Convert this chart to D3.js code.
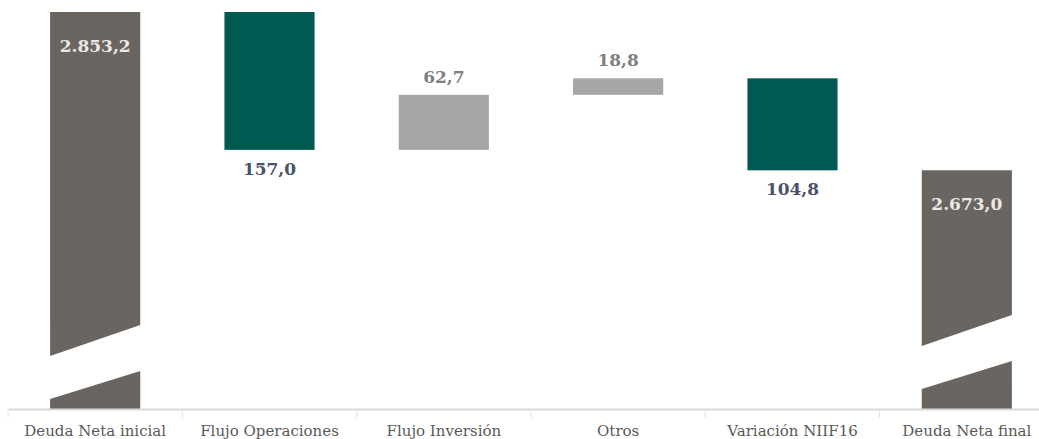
<!DOCTYPE html>
<html>
<head>
<meta charset="utf-8">
<script src="https://cdn.jsdelivr.net/npm/d3@7"></script>
<style>
  body { margin: 0; background: #fff; }
  svg { display: block; }
</style>
</head>
<body>
<div id="chart"></div>
<script>
// data
const categories = ['Deuda Neta inicial', 'Flujo Operaciones', 'Flujo Inversión', 'Otros', 'Variación NIIF16', 'Deuda Neta final'];
const kinds = ['total', 'down', 'up', 'up', 'down', 'total'];
const values = [2853.2, 157.0, 62.7, 18.8, 104.8, 2673.0];
const valueLabels = ['2.853,2', '157,0', '62,7', '18,8', '104,8', '2.673,0'];

const width = 1039, height = 439;
const baseY = 409;

const svg = d3.select('#chart').append('svg')
  .attr('width', width)
  .attr('height', height);

// running totals for the waterfall
let run = 0;
const bars = categories.map((c, i) => {
  let lo, hi;
  if (kinds[i] === 'total') { lo = null; hi = values[i]; run = values[i]; }
  else if (kinds[i] === 'down') { hi = run; run = run - values[i]; lo = run; }
  else { lo = run; run = run + values[i]; hi = run; }
  return { cat: c, kind: kinds[i], lo: lo, hi: hi, label: valueLabels[i] };
});

const x = d3.scaleBand()
  .domain(categories)
  .range([8, 1054])
  .paddingInner(0.483)
  .paddingOuter(0.2415);

const y = d3.scaleLinear()
  .domain([2400, 2853.2])
  .range([410, 12]);

const colors = { total: '#6b6562', down: '#005a52', up: '#a6a6a6' };
const labelColors = { total: '#ece8e4', down: '#48526b', up: '#7f7f7f' };

// break cut offsets (pixels from baseline) for the total bars
const breaks = { 'Deuda Neta inicial': 0, 'Deuda Neta final': -10 };

const g = svg.append('g');

bars.forEach(b => {
  const x0 = x(b.cat), x1 = x0 + x.bandwidth();
  if (b.kind === 'total') {
    const off = breaks[b.cat];
    const top = y(b.hi);
    const upper = [[x0, top], [x1, top], [x1, 325 + off], [x0, 356 + off]];
    const lower = [[x0, 399 + off], [x1, 371 + off], [x1, baseY], [x0, baseY]];
    [upper, lower].forEach(p => {
      g.append('path')
        .attr('d', d3.line()(p) + 'Z')
        .attr('fill', colors.total);
    });
  } else {
    g.append('rect')
      .attr('x', x0)
      .attr('y', y(b.hi))
      .attr('width', x.bandwidth())
      .attr('height', y(b.lo) - y(b.hi))
      .attr('fill', colors[b.kind]);
  }
});

// value labels
g.selectAll('text.val')
  .data(bars)
  .join('text')
  .attr('class', 'val')
  .attr('x', d => x(d.cat) + x.bandwidth() / 2)
  .attr('y', d => {
    if (d.kind === 'total') return y(d.hi) + 40;
    if (d.kind === 'down') return y(d.lo) + 25;
    return y(d.hi) - 12;
  })
  .attr('text-anchor', 'middle')
  .attr('font-family', '"DejaVu Serif", serif')
  .attr('font-weight', 'bold')
  .attr('font-size', 17)
  .attr('fill', d => labelColors[d.kind])
  .text(d => d.label);

// x axis
const xAxis = d3.axisBottom(x).tickSize(0).tickSizeOuter(0).tickPadding(16);
const ax = svg.append('g')
  .attr('transform', `translate(0,${baseY})`)
  .call(xAxis);
ax.select('.domain').attr('stroke', '#d9d9d9').attr('stroke-width', 2);
ax.selectAll('text')
  .attr('font-family', '"DejaVu Serif", serif')
  .attr('font-size', 15)
  .attr('fill', '#595959');

// boundary ticks between categories
const half = (x.step() - x.bandwidth()) / 2;
ax.selectAll('line.sep')
  .data(categories)
  .join('line')
  .attr('class', 'sep')
  .attr('x1', d => x(d) - half)
  .attr('x2', d => x(d) - half)
  .attr('y1', 0)
  .attr('y2', 9)
  .attr('stroke', '#e3e3e3')
  .attr('stroke-width', 1);
</script>
</body>
</html>
